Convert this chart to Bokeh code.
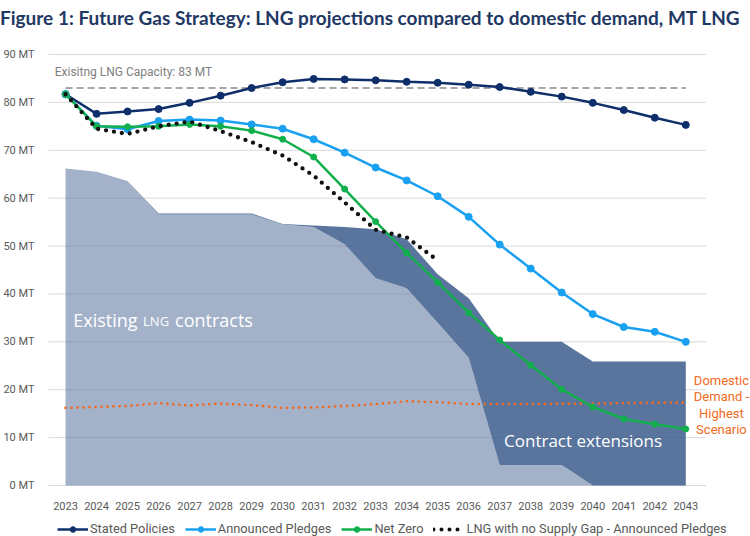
from bokeh.plotting import figure
from bokeh.models import Range1d, FixedTicker, Legend, LegendItem, Label, Div
from bokeh.layouts import column
from bokeh.embed import file_html
from bokeh.resources import INLINE

# ---------------- data ----------------
years = list(range(2023, 2044))
year_labels = [str(y) for y in years]
stated_policies = [81.7, 77.6, 78.1, 78.6, 79.9, 81.4, 83.0, 84.2, 84.9, 84.8, 84.6,
                   84.3, 84.1, 83.7, 83.2, 82.2, 81.2, 79.9, 78.4, 76.8, 75.3]
announced_pledges = [81.7, 75.1, 74.4, 76.1, 76.4, 76.2, 75.4, 74.5, 72.3, 69.5, 66.4,
                     63.7, 60.4, 56.1, 50.3, 45.3, 40.3, 35.8, 33.1, 32.1, 30.0]
net_zero = [81.7, 75.0, 74.9, 75.0, 75.4, 75.0, 74.1, 72.3, 68.6, 61.9, 55.1,
            48.6, 42.4, 36.1, 30.4, 25.1, 20.1, 16.4, 13.9, 12.8, 11.8]
no_gap_years = years[:13]
no_supply_gap = [81.7, 74.5, 73.4, 75.0, 76.0, 74.0, 71.7, 68.9, 64.7, 59.1, 53.4, 51.8, 47.0]
domestic_demand = [16.2, 16.4, 16.6, 17.2, 16.7, 17.1, 16.8, 16.2, 16.3, 16.6, 17.0,
                   17.6, 17.4, 17.0, 17.0, 17.0, 17.1, 17.1, 17.2, 17.3, 17.3]
existing_contracts = [66.2, 65.5, 63.6, 56.6, 56.6, 56.6, 56.6, 54.5, 54.0, 50.4, 43.3,
                      41.2, 34.0, 26.7, 4.3, 4.3, 4.3, 0.0, 0.0, 0.0, 0.0]
contract_extensions = [0.0, 0.0, 0.0, 0.2, 0.2, 0.2, 0.2, 0.1, 0.3, 3.6, 10.2,
                       10.2, 10.1, 12.4, 25.7, 25.7, 25.7, 25.9, 25.9, 25.9, 25.9]
capacity = 83
y_ticks = list(range(0, 100, 10))
y_tick_labels = [f"{v} MT" for v in y_ticks]
series_labels = ["Stated Policies", "Announced Pledges", "Net Zero",
                 "LNG with no Supply Gap - Announced Pledges"]
demand_label_lines = ["Domestic", "Demand -", "Highest", "Scenario"]
title_text = "Figure 1: Future Gas Strategy: LNG projections compared to domestic demand, MT LNG"

total_contracts = [a + b for a, b in zip(existing_contracts, contract_extensions)]

NAVY = "#0f2f6b"
BLUE = "#1aa0f0"
GREEN = "#12b04c"
ORANGE = "#f26a22"
GREY_TXT = "#595959"

# ---------------- title ----------------
title_div = Div(text=title_text, width=750, height=36, margin=0,
                styles={"font-family": "Lato", "font-weight": "bold", "font-size": "19px",
                        "color": "#1f3864", "white-space": "nowrap", "line-height": "36px",
                        "padding-left": "0px", "overflow": "hidden"})

# ---------------- main chart ----------------
X0, X1 = 2022.45, 2045.087
GRID_X1 = 2043.65
p = figure(width=750, height=476,
           x_range=Range1d(X0, X1), y_range=Range1d(-0.62, 90.83),
           output_backend="svg", toolbar_location=None,
           min_border_left=46, min_border_right=0, min_border_top=14, min_border_bottom=20)
p.outline_line_color = None
p.background_fill_color = "white"
p.border_fill_color = "white"

p.xaxis.ticker = FixedTicker(ticks=years)
p.xaxis.major_label_overrides = {y: s for y, s in zip(years, year_labels)}
p.yaxis.ticker = FixedTicker(ticks=y_ticks)
p.yaxis.major_label_overrides = {v: s for v, s in zip(y_ticks, y_tick_labels)}
for ax in (p.xaxis, p.yaxis):
    ax.axis_line_color = None
    ax.major_tick_line_color = None
    ax.minor_tick_line_color = None
    ax.major_label_text_font = "Roboto"
    ax.major_label_text_font_size = "11px"
    ax.major_label_text_color = GREY_TXT
p.yaxis.major_label_standoff = 8
p.xaxis.major_label_standoff = 7
p.xgrid.visible = False
p.ygrid.visible = False

# horizontal gridlines (stop short of the right-hand annotation)
p.segment(x0=X0, x1=GRID_X1, y0=y_ticks, y1=y_ticks, line_color="#d9d9d9", line_width=1)

# areas
p.varea(x=years, y1=0, y2=existing_contracts, fill_color="#667fa5", fill_alpha=0.6)
p.varea(x=years, y1=existing_contracts, y2=total_contracts, fill_color="#3c5d8d", fill_alpha=0.85)

# domestic demand
p.line(years, domestic_demand, line_color=ORANGE, line_width=2.7, line_dash="0 6", line_cap="round")

# capacity
p.line([years[0], years[-1]], [capacity, capacity], line_color="#a6a6a6", line_width=2.2, line_dash="7 4")

# series
p.line(years, stated_policies, line_color=NAVY, line_width=2.5)
p.scatter(years, stated_policies, size=7, fill_color=NAVY, line_color=NAVY)
p.line(years, announced_pledges, line_color=BLUE, line_width=2.5)
p.scatter(years, announced_pledges, size=7, fill_color=BLUE, line_color=BLUE)
p.line(years, net_zero, line_color=GREEN, line_width=2.5)
p.scatter(years, net_zero, size=6, fill_color=GREEN, line_color=GREEN)
p.line(no_gap_years, no_supply_gap, line_color="#111111", line_width=4.3, line_dash="0 8", line_cap="round")

# texts
p.add_layout(Label(x=2022.65, y=86.3, text="Exisitng LNG Capacity: 83 MT", text_font="Roboto",
                   text_font_size="12px", text_color="#808080", text_baseline="middle"))
p.add_layout(Label(x=2023.25, y=34.6, text="Existing", text_font="Open Sans",
                   text_font_size="18px", text_color="white", text_baseline="middle"))
p.add_layout(Label(x=2025.50, y=34.3, text="LNG", text_font="Open Sans",
                   text_font_size="13px", text_color="white", text_baseline="middle"))
p.add_layout(Label(x=2026.53, y=34.6, text="contracts", text_font="Open Sans",
                   text_font_size="18px", text_color="white", text_baseline="middle"))
p.add_layout(Label(x=2037.14, y=9.5, text="Contract extensions", text_font="Open Sans",
                   text_font_size="17px", text_color="white", text_baseline="middle"))
for txt, yv in zip(demand_label_lines, [21.93, 18.62, 15.1, 11.8]):
    p.add_layout(Label(x=2044.15, y=yv, text=txt, text_font="Roboto", text_font_size="13px",
                       text_color=ORANGE, text_align="center", text_baseline="middle"))

# ---------------- legend strip ----------------
lf = figure(width=750, height=24, x_range=Range1d(0, 1), y_range=Range1d(0, 1),
            output_backend="svg", toolbar_location=None, min_border=0,
            x_axis_type=None, y_axis_type=None)
lf.outline_line_color = None
lf.grid.visible = False
# off-screen proxies: only used to draw the legend swatches
px, py = [-5], [-5]
g1 = lf.line(px, py, line_color=NAVY, line_width=2.5)
m1 = lf.scatter(px, py, size=7, fill_color=NAVY, line_color=NAVY)
g2 = lf.line(px, py, line_color=BLUE, line_width=2.5)
m2 = lf.scatter(px, py, size=7, fill_color=BLUE, line_color=BLUE)
g3 = lf.line(px, py, line_color=GREEN, line_width=2.5)
m3 = lf.scatter(px, py, size=6, fill_color=GREEN, line_color=GREEN)
g4 = lf.line(px, py, line_color="#111111", line_width=4, line_dash="0 8", line_cap="round")

legend = Legend(items=[
    LegendItem(label=series_labels[0], renderers=[g1, m1]),
    LegendItem(label=series_labels[1], renderers=[g2, m2]),
    LegendItem(label=series_labels[2], renderers=[g3, m3]),
    LegendItem(label=series_labels[3], renderers=[g4]),
], orientation="horizontal", location=(9, 0), border_line_color=None,
    background_fill_alpha=0, padding=0, margin=0, spacing=10, glyph_width=31,
    glyph_height=14, label_standoff=2, label_text_font="Roboto",
    label_text_font_size="12.8px", label_text_color=GREY_TXT, label_height=14)
lf.add_layout(legend)

layout = column(title_div, p, lf, spacing=0)
open("out.html", "w").write(file_html(layout, INLINE))
